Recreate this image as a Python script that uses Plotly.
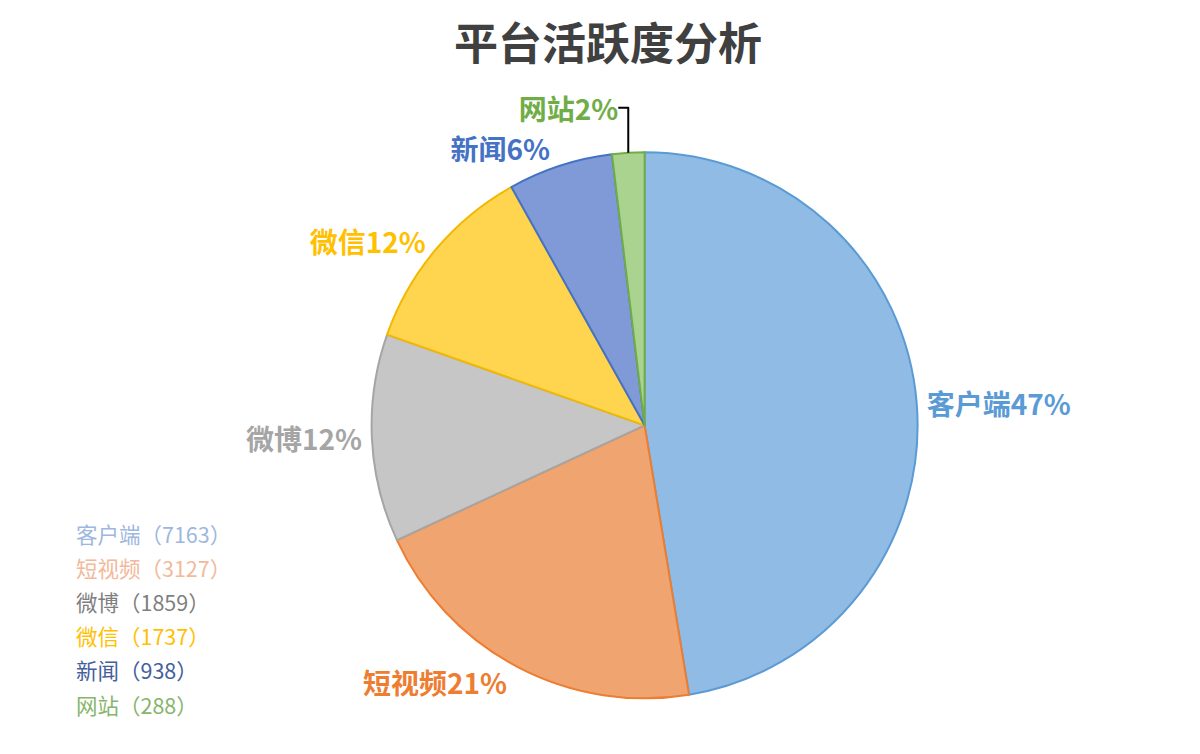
import plotly.graph_objects as go

# platform activity data
platforms = ["客户端", "短视频", "微博", "微信", "新闻", "网站"]
counts = [7163, 3127, 1859, 1737, 938, 288]
pct_labels = ["47%", "21%", "12%", "12%", "6%", "2%"]

fill_colors = ["#8fbbe4", "#f0a46f", "#c6c6c6", "#ffd54f", "#7f9ad6", "#a9d38f"]
edge_colors = ["#5b9bd5", "#ed7d31", "#a5a5a5", "#f2b800", "#4472c4", "#70ad47"]
text_colors = ["#5b9bd5", "#ed7d31", "#a5a5a5", "#ffc000", "#4472c4", "#70ad47"]
legend_colors = ["#9db8e0", "#f2b99a", "#7f7f7f", "#ffc000", "#44609c", "#86b56b"]

cjk = "Noto Sans CJK SC, Noto Sans, sans-serif"

fig = go.Figure()
fig.add_trace(go.Pie(
    labels=platforms,
    values=counts,
    text=pct_labels,
    texttemplate="<b>%{label}%{text}</b>",
    textposition="outside",
    outsidetextfont=dict(family=cjk, size=28, color=text_colors),
    sort=False,
    direction="clockwise",
    rotation=0,
    marker=dict(colors=fill_colors, line=dict(color=edge_colors, width=2)),
    domain=dict(x=[0.303, 0.758], y=[0.084, 0.809]),
    showlegend=False,
    hoverinfo="label+value+percent",
))

# legend drawn as coloured text lines, bottom-left
for i, (name, cnt) in enumerate(zip(platforms, counts)):
    fig.add_annotation(
        x=66, y=525 + i * 34.2, xref="x", yref="y",
        text=f"{name}（{cnt}）", showarrow=False, xanchor="left", yanchor="middle",
        font=dict(family=cjk, size=21.5, color=legend_colors[i]),
    )

fig.update_xaxes(range=[0, 1200], visible=False)
fig.update_yaxes(range=[754, 0], visible=False)

fig.update_layout(
    width=1200, height=754,
    margin=dict(l=0, r=0, t=0, b=0),
    paper_bgcolor="white", plot_bgcolor="white",
    title=dict(text="<b>平台活跃度分析</b>", x=0.5, xanchor="center", y=0.951, yanchor="middle",
               font=dict(family=cjk, size=44, color="#404040")),
)

fig.write_html("out.html")
